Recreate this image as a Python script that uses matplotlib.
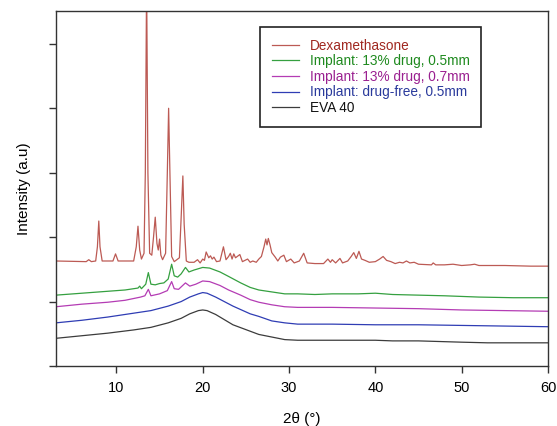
import matplotlib
matplotlib.use("Agg")
import matplotlib.pyplot as plt

plt.rcParams['font.family'] = ['Liberation Sans', 'DejaVu Sans']

# ---------------- data ----------------
labels = ["Dexamethasone", "Implant: 13% drug, 0.5mm", "Implant: 13% drug, 0.7mm",
          "Implant: drug-free, 0.5mm", "EVA 40"]

dex_x = [3.0, 6.5, 6.8, 7.1, 7.6, 7.8, 7.96, 8.1, 8.35, 9.6, 9.9, 10.2, 12.0, 12.3, 12.5, 12.7,
         12.9, 13.2, 13.35, 13.5, 13.65, 13.85, 14.1, 14.3, 14.5, 14.7, 14.85, 15.0, 15.15, 15.35,
         15.7, 15.9, 16.05, 16.2, 16.4, 16.7, 17.3, 17.5, 17.7, 17.85, 18.1, 18.4, 19.0, 19.4,
         19.7, 20.0, 20.2, 20.4, 20.7, 20.9, 21.1, 21.3, 21.6, 22.0, 22.4, 22.7, 23.0, 23.2, 23.4,
         23.6, 23.8, 24.0, 24.3, 24.6, 25.2, 25.5, 25.8, 26.2, 26.5, 26.8, 27.1, 27.3, 27.45, 27.6,
         27.8, 28.0, 28.4, 28.7, 29.0, 29.4, 29.7, 30.2, 30.6, 31.2, 31.7, 32.1, 33.0, 34.0, 34.5,
         34.8, 35.0, 35.4, 35.9, 36.2, 36.8, 37.2, 37.5, 37.8, 38.1, 38.4, 38.8, 39.3, 40.0, 40.5,
         40.9, 41.3, 41.8, 42.3, 42.8, 43.2, 43.6, 44.0, 44.5, 45.0, 46.5, 46.7, 47.0, 48.0, 49.0,
         50.0, 51.0, 51.5, 52.0, 55.0, 58.0, 60.0]
dex_y = [1.63, 1.62, 1.65, 1.62, 1.63, 1.85, 2.25, 1.85, 1.63, 1.63, 1.74, 1.63, 1.63, 1.85, 2.17, 1.80,
         1.66, 1.75, 3.0, 6.0, 3.0, 1.75, 1.72, 2.0, 2.31, 1.90, 1.80, 1.97, 1.72, 1.65,
         1.75, 3.0, 4.0, 3.0, 1.70, 1.62, 1.68, 2.3, 2.95, 2.2, 1.63, 1.61, 1.61, 1.65,
         1.60, 1.66, 1.64, 1.77, 1.68, 1.71, 1.66, 1.69, 1.62, 1.63, 1.85, 1.65, 1.70, 1.75, 1.66,
         1.74, 1.68, 1.70, 1.73, 1.62, 1.66, 1.61, 1.63, 1.61, 1.66, 1.70, 1.85, 1.97, 1.88, 1.98,
         1.88, 1.76, 1.69, 1.63, 1.69, 1.72, 1.62, 1.66, 1.60, 1.63, 1.75, 1.60, 1.59, 1.59, 1.66,
         1.61, 1.65, 1.60, 1.67, 1.60, 1.63, 1.70, 1.76, 1.67, 1.78, 1.66, 1.64, 1.61, 1.62, 1.66,
         1.70, 1.64, 1.62, 1.59, 1.61, 1.60, 1.63, 1.60, 1.61, 1.58, 1.57, 1.60, 1.57, 1.57, 1.58,
         1.56, 1.57, 1.58, 1.56, 1.56, 1.55, 1.55]

imp05_x = [3, 6, 9, 11, 12.5, 12.7, 12.9, 13.4, 13.7, 14.0, 14.5, 15.0, 15.5, 16.0, 16.4, 16.7,
           17.1, 17.5, 18.0, 18.4, 19.0, 20.0, 20.8, 22, 23, 24.4, 25.5, 26.5, 28, 29.5, 31, 33,
           35, 38, 40, 42, 45, 48, 52, 56, 60]
imp05_y = [1.10, 1.13, 1.16, 1.18, 1.21, 1.24, 1.20, 1.27, 1.45, 1.27, 1.26, 1.28, 1.29, 1.35, 1.58, 1.40,
           1.38, 1.43, 1.53, 1.46, 1.49, 1.53, 1.52, 1.46, 1.39, 1.29, 1.22, 1.18, 1.15, 1.12, 1.12, 1.11,
           1.12, 1.12, 1.13, 1.11, 1.10, 1.09, 1.07, 1.06, 1.06]

imp07_x = [3, 6, 9, 11, 12.8, 13.3, 13.7, 14.0, 15.0, 15.9, 16.4, 16.7, 17.2, 18.0, 18.5, 19.2,
           20.0, 20.8, 22, 23, 24.4, 25.5, 26.5, 28, 29.5, 31, 35, 40, 45, 50, 55, 60]
imp07_y = [0.92, 0.96, 0.99, 1.02, 1.07, 1.09, 1.19, 1.09, 1.12, 1.17, 1.31, 1.20, 1.19, 1.29, 1.24, 1.27,
           1.32, 1.31, 1.25, 1.18, 1.10, 1.03, 0.99, 0.95, 0.92, 0.91, 0.91, 0.90, 0.89, 0.87, 0.86, 0.85]

free_x = [3, 6, 9, 12, 14, 16, 17.5, 18.5, 19.5, 20.0, 20.5, 21.5, 22.5, 23.5, 24.5, 25.5, 26.5,
          28, 29.5, 31, 35, 40, 45, 50, 55, 60]
free_y = [0.67, 0.71, 0.76, 0.82, 0.86, 0.93, 1.00, 1.07, 1.12, 1.14, 1.13, 1.07, 1.00, 0.93, 0.87, 0.81, 0.77,
          0.70, 0.67, 0.65, 0.65, 0.64, 0.64, 0.63, 0.62, 0.61]

eva_x = [3, 6, 9, 12, 14, 16, 17.5, 18.5, 19.5, 20.0, 20.5, 21.5, 22.5, 23.5, 24.5, 25.5, 26.5,
         28, 29.5, 31, 35, 38, 40, 42, 45, 50, 53, 60]
eva_y = [0.43, 0.47, 0.51, 0.56, 0.60, 0.67, 0.74, 0.81, 0.86, 0.87, 0.86, 0.80, 0.72, 0.64, 0.59, 0.54, 0.49,
         0.45, 0.41, 0.40, 0.40, 0.40, 0.40, 0.39, 0.39, 0.37, 0.36, 0.36]

xticks = [10, 20, 30, 40, 50, 60]
yticks = [0, 1, 2, 3, 4, 5]

# ---------------- drawing ----------------
line_colors = ['#bc5a54', '#35a040', '#b43cb4', '#2f3db4', '#3c3c3c']
text_colors = ['#a02820', '#1f8a1f', '#9a2090', '#2a3a9c', '#111111']

fig = plt.figure(figsize=(5.57, 4.26), dpi=100)
ax = fig.add_axes([0.1005, 0.1408, 0.8833, 0.8334])

series = [(dex_x, dex_y), (imp05_x, imp05_y), (imp07_x, imp07_y), (free_x, free_y), (eva_x, eva_y)]
for (xs, ys), c, lab in zip(series, line_colors, labels):
    ax.plot(xs, ys, color=c, lw=0.9, label=lab)

ax.set_xlim(3, 60)
ax.set_ylim(0, 5.51)
ax.set_xticks(xticks)
ax.set_yticks(yticks)
ax.set_yticklabels([])
ax.tick_params(axis='both', direction='out', length=5, width=1, color='#333333',
               labelsize=10.5, pad=6)
for s in ax.spines.values():
    s.set_color('#333333')
    s.set_linewidth(1.0)

ax.set_xlabel('2θ (°)', fontsize=11, labelpad=12)
ax.set_ylabel('Intensity (a.u)', fontsize=11, labelpad=7)

leg = ax.legend(loc='upper left', bbox_to_anchor=(0.4146, 0.955), fontsize=9.8,
                frameon=True, fancybox=False, edgecolor='#222222', framealpha=1,
                handlelength=2.0, handletextpad=0.8, labelspacing=0.12,
                borderpad=0.85, borderaxespad=0, labelcolor=text_colors)
leg.get_frame().set_linewidth(1.2)

fig.savefig('out.png', dpi=100)
